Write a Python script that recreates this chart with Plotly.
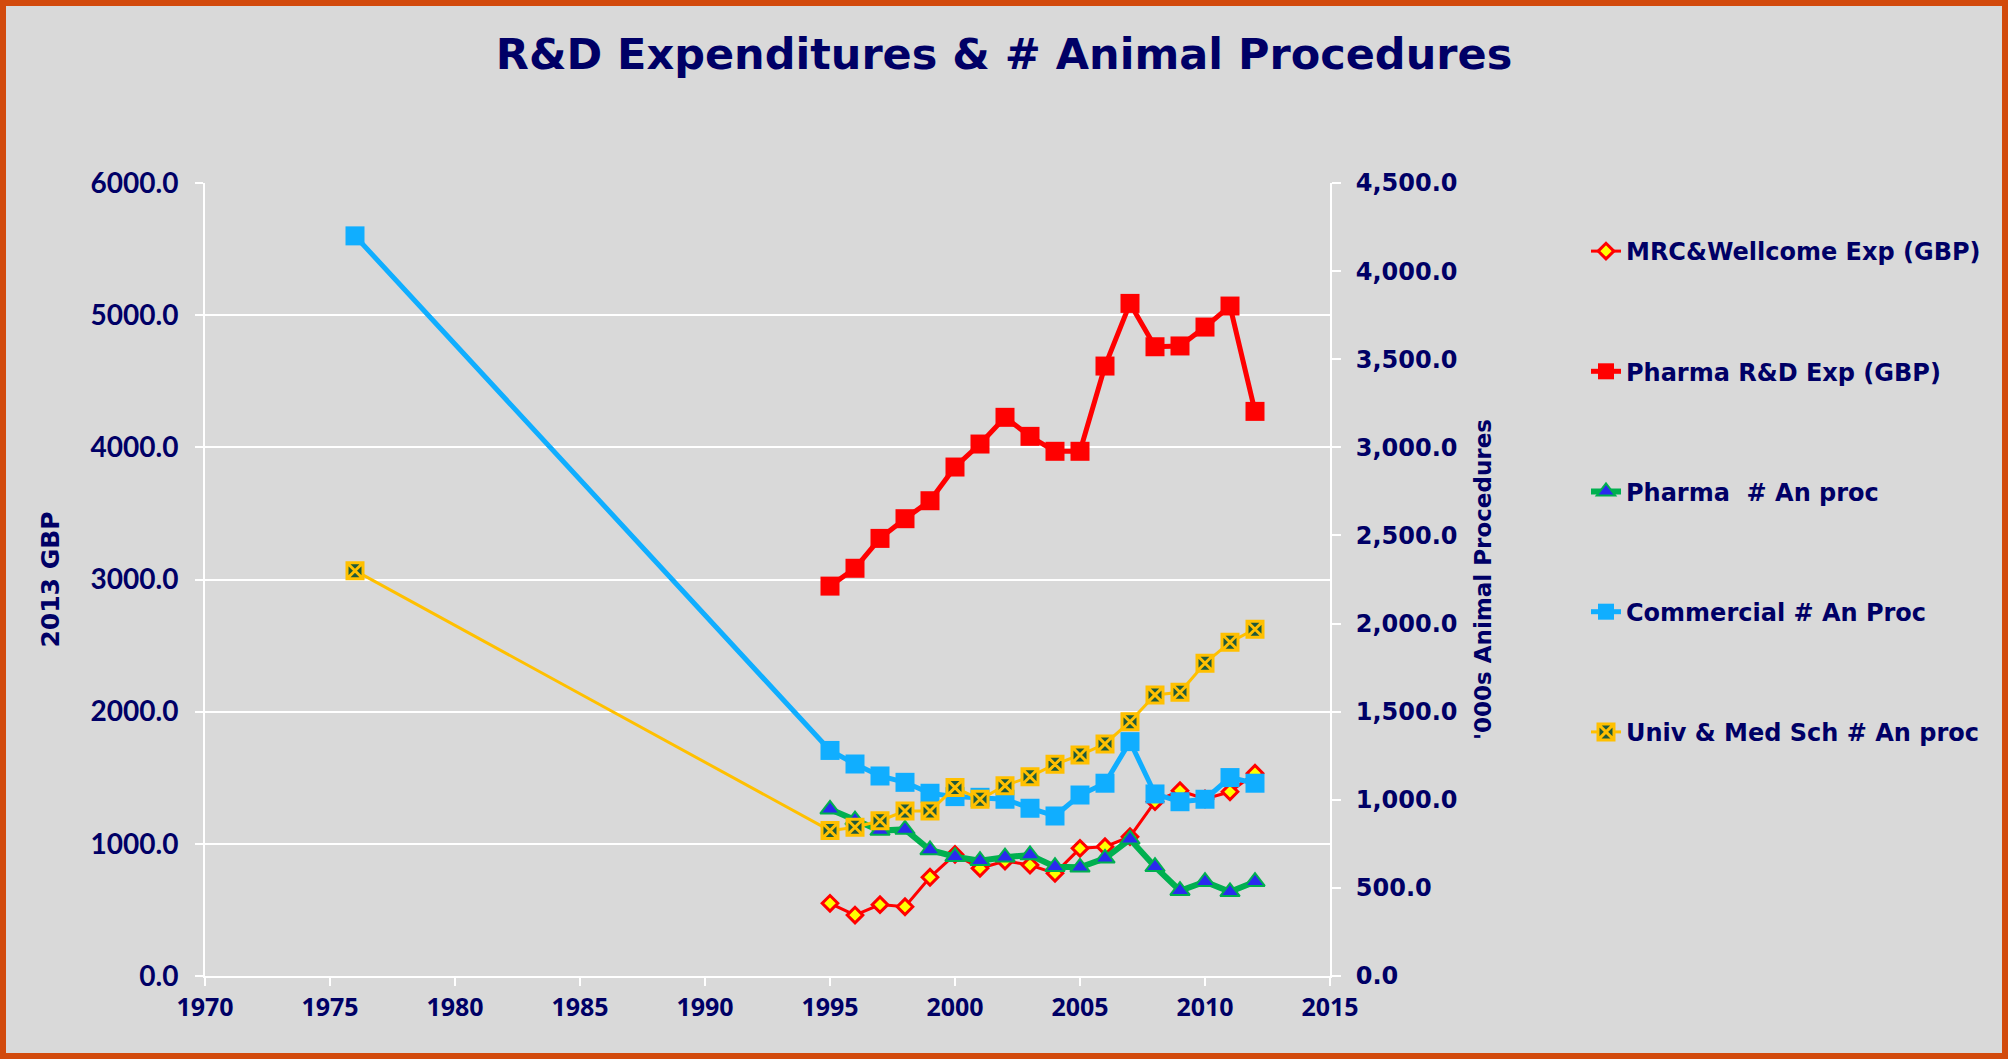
import plotly.graph_objects as go

# data
years = list(range(1995, 2013))
years_long = [1976] + years

mrc_wellcome_exp = [550, 461, 540, 524, 747, 920, 815, 870, 840, 777,
                    966, 978, 1054, 1319, 1402, 1340, 1394, 1534]
pharma_rd_exp = [2950, 3085, 3311, 3460, 3596, 3851, 4025, 4227, 4083, 3970,
                 3970, 4615, 5089, 4761, 4767, 4910, 5069, 4272]
pharma_an_proc = [946, 885, 825, 832, 715, 677, 654, 674, 687, 620,
                  617, 668, 776, 620, 484, 535, 478, 535]
commercial_an_proc = [4200, 1280, 1203, 1135, 1099, 1037, 1018, 1014, 1003, 952, 908,
                      1027, 1094, 1330, 1033, 989, 1003, 1126, 1094]
univ_an_proc = [2300, 825, 844, 881, 936, 936, 1069, 1003, 1080, 1131, 1201,
                1254, 1317, 1443, 1595, 1610, 1775, 1894, 1968]

names = ["MRC&Wellcome Exp (GBP)", "Pharma R&D Exp (GBP)", "Pharma  # An proc",
         "Commercial # An Proc", "Univ & Med Sch # An proc"]

NAVY = "#000066"
BG = "#d9d9d9"
W, H = 2008, 1059
L, R, T, B = 205, 678, 183, 83
pw, ph = W - L - R, H - T - B

fig = go.Figure()

fig.add_trace(go.Scatter(
    x=years, y=mrc_wellcome_exp, name=names[0], legendgroup="a",
    mode="lines+markers", line=dict(color="#ff0000", width=3),
    marker=dict(symbol="diamond", size=12, color="#ffff00",
                line=dict(color="#ff0000", width=3)),
))
fig.add_trace(go.Scatter(
    x=years, y=pharma_rd_exp, name=names[1], legendgroup="b",
    mode="lines+markers", line=dict(color="#ff0000", width=5),
    marker=dict(symbol="square", size=19, color="#ff0000"),
))
fig.add_trace(go.Scatter(
    x=years, y=pharma_an_proc, name=names[2], legendgroup="c", yaxis="y2",
    mode="lines+markers", line=dict(color="#00b050", width=6),
    marker=dict(symbol="triangle-up", size=17, color="#2a2aee",
                line=dict(color="#00b050", width=2)),
))
fig.add_trace(go.Scatter(
    x=years_long, y=commercial_an_proc, name=names[3], legendgroup="d", yaxis="y2",
    mode="lines+markers", line=dict(color="#10aeff", width=5),
    marker=dict(symbol="square", size=19, color="#10aeff"),
))
fig.add_trace(go.Scatter(
    x=years_long, y=univ_an_proc, name=names[4], legendgroup="e", yaxis="y2",
    mode="lines+markers", line=dict(color="#ffc000", width=3),
    marker=dict(symbol="square-x", size=16, color="#1f5a3a",
                line=dict(color="#ffc000", width=3)),
))

fig.update_layout(
    width=W, height=H,
    margin=dict(l=L, r=R, t=T, b=B),
    paper_bgcolor=BG, plot_bgcolor=BG,
    title=dict(text="<b>R&D Expenditures & # Animal Procedures</b>",
               x=0.5, xref="container", xanchor="center",
               y=1 - 54 / H, yanchor="middle",
               font=dict(family="DejaVu Sans", size=43, color=NAVY)),
    xaxis=dict(range=[1970, 2015], dtick=5, showgrid=False, zeroline=False,
               showline=True, linecolor="white", linewidth=2,
               ticks="outside", ticklen=8, tickcolor="white", tickwidth=2,
               ticklabelstandoff=0,
               tickfont=dict(family="Noto Sans", size=25, color=NAVY, weight="bold")),
    yaxis=dict(range=[0, 6000], dtick=1000, tickformat=".1f",
               showgrid=True, gridcolor="white", gridwidth=1.5, zeroline=False,
               showline=True, linecolor="white", linewidth=2,
               ticks="outside", ticklen=8, tickcolor="white", tickwidth=2,
               ticklabelstandoff=11,
               tickfont=dict(family="Lato", size=28, color=NAVY, weight="bold"),
               title=dict(text="<b>2013 GBP</b>", standoff=24,
                          font=dict(family="DejaVu Sans", size=25, color=NAVY))),
    yaxis2=dict(range=[0, 4500], dtick=500, tickformat=",.1f", overlaying="y",
                side="right", showgrid=False, zeroline=False,
                showline=True, linecolor="white", linewidth=2,
                ticks="outside", ticklen=9, tickcolor="white", tickwidth=2,
                ticklabelstandoff=10,
                tickfont=dict(family="DejaVu Sans", size=24, color=NAVY, weight="bold"),
                title=dict(text="<b>'000s Animal Procedures</b>", standoff=18,
                           font=dict(family="DejaVu Sans", size=23, color=NAVY))),
    legend=dict(x=(1586 - L) / pw, xanchor="left", y=(H - B - 229) / ph, yanchor="top",
                bgcolor="rgba(0,0,0,0)", tracegroupgap=86, traceorder="grouped",
                font=dict(family="DejaVu Sans", size=24, color=NAVY, weight="bold")),
    shapes=[dict(type="rect", xref="paper", yref="paper",
                 x0=-(L - 3) / pw, x1=(W - L - 3) / pw,
                 y0=-(B - 3) / ph, y1=(H - B - 3) / ph,
                 line=dict(color="#d24a0c", width=6), layer="below")],
)

fig.write_html("out.html", config={"displayModeBar": False},
               post_script="document.body.style.margin='0';")
